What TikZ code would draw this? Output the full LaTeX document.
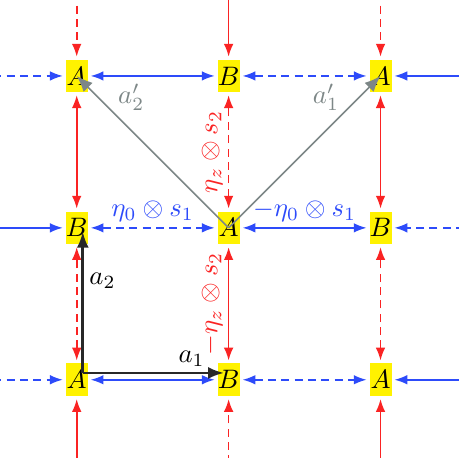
\documentclass[tikz,border=0pt]{standalone}
\usepackage{amsmath}
\usepackage{xcolor}
\usepackage{tikz}
\usetikzlibrary{arrows.meta, calc}

\definecolor{bondred}{RGB}{250,35,35}
\definecolor{bondblue}{RGB}{45,75,250}
\definecolor{vecgray}{RGB}{125,135,135}
\definecolor{vecblack}{RGB}{40,40,40}

\begin{document}
\begin{tikzpicture}[
  site/.style={fill=yellow, inner sep=0pt, minimum width=0.29cm,
               minimum height=0.43cm, outer sep=1.1pt},
  vbond/.style={draw=bondred, line width=0.6pt, {Latex[length=4.8pt,width=3.6pt]}-{Latex[length=4.8pt,width=3.6pt]}},
  hbond/.style={draw=bondblue, line width=0.6pt, {Latex[length=4.8pt,width=3.6pt]}-{Latex[length=4.8pt,width=3.6pt]}},
  vin/.style={draw=bondred, line width=0.6pt, -{Latex[length=4.8pt,width=3.6pt]}},
  hin/.style={draw=bondblue, line width=0.6pt, -{Latex[length=4.8pt,width=3.6pt]}},
  broken/.style={dash pattern=on 3pt off 2pt},
  prim/.style={draw=vecgray, line width=0.6pt, -{Latex[length=6pt,width=4.8pt]}},
  basis/.style={draw=vecblack, line width=1pt, -{Latex[length=6pt,width=4.5pt]}}]
  \useasboundingbox (-0.01,-0.03) rectangle (6.02,6.0);
  % lattice sites
  \node[site] (A11) at (1,5) {$A$};
  \node[site] (B12) at (3,5) {$B$};
  \node[site] (A13) at (5,5) {$A$};
  \node[site] (B21) at (1,3) {$B$};
  \node[site] (A22) at (3,3) {$A$};
  \node[site] (B23) at (5,3) {$B$};
  \node[site] (A31) at (1,1) {$A$};
  \node[site] (B32) at (3,1) {$B$};
  \node[site] (A33) at (5,1) {$A$};
  % free ends at the border
  \coordinate (l1) at (-0.1,5); \coordinate (r1) at (6.1,5);
  \coordinate (l2) at (-0.1,3); \coordinate (r2) at (6.1,3);
  \coordinate (l3) at (-0.1,1); \coordinate (r3) at (6.1,1);
  \coordinate (t1) at (1,6.1);  \coordinate (b1) at (1,-0.1);
  \coordinate (t2) at (3,6.1);  \coordinate (b2) at (3,-0.1);
  \coordinate (t3) at (5,6.1);  \coordinate (b3) at (5,-0.1);
  % horizontal bonds
  \draw[hin, broken] (l1) -- (A11);
  \draw[hbond] (A11) -- (B12);
  \draw[hbond, broken] (B12) -- (A13);
  \draw[hin] (r1) -- (A13);
  \draw[hin] (l2) -- (B21);
  \draw[hbond, broken] (B21) -- node[above, inner sep=2pt, text=bondblue] {$\eta_0\otimes s_1$} (A22);
  \draw[hbond] (A22) -- node[above, inner sep=2pt, text=bondblue] {$-\eta_0\otimes s_1$} (B23);
  \draw[hin, broken] (r2) -- (B23);
  \draw[hin, broken] (l3) -- (A31);
  \draw[hbond] (A31) -- (B32);
  \draw[hbond, broken] (B32) -- (A33);
  \draw[hin] (r3) -- (A33);
  % vertical bonds
  \draw[vin, broken] (t1) -- (A11);
  \draw[vbond] (B21) -- (A11);
  \draw[vbond, broken] (A31) -- (B21);
  \draw[vin] (b1) -- (A31);
  \draw[vin] (t2) -- (B12);
  \draw[vbond, broken] (A22) -- node[sloped, above, inner sep=2pt, text=bondred] {$\eta_z\otimes s_2$} (B12);
  \draw[vbond] (B32) -- node[sloped, above, inner sep=2pt, text=bondred] {$-\eta_z\otimes s_2$} (A22);
  \draw[vin, broken] (b2) -- (B32);
  \draw[vin, broken] (t3) -- (A13);
  \draw[vbond] (B23) -- (A13);
  \draw[vbond, broken] (A33) -- (B23);
  \draw[vin] (b3) -- (A33);
  % primitive vectors
  \draw[prim] (A22.center) -- node[pos=0.75, above right, inner sep=1pt, text=vecgray] {$a_2'$} (A11.center);
  \draw[prim] (A22.center) -- node[pos=0.75, above left, inner sep=1pt, text=vecgray] {$a_1'$} (A13.center);
  % basis vectors
  \coordinate (o) at ($(A31.center)+(0.08,0.09)$);
  \coordinate (e1) at ($(B32.center)+(-0.06,0.09)$);
  \coordinate (e2) at ($(B21.center)+(0.08,-0.05)$);
  \draw[basis] (o) -- node[pos=0.77, above, inner sep=2pt] {$a_1$} (e1);
  \draw[basis] (o) -- node[pos=0.65, right, inner sep=2pt] {$a_2$} (e2);
\end{tikzpicture}
\end{document}
